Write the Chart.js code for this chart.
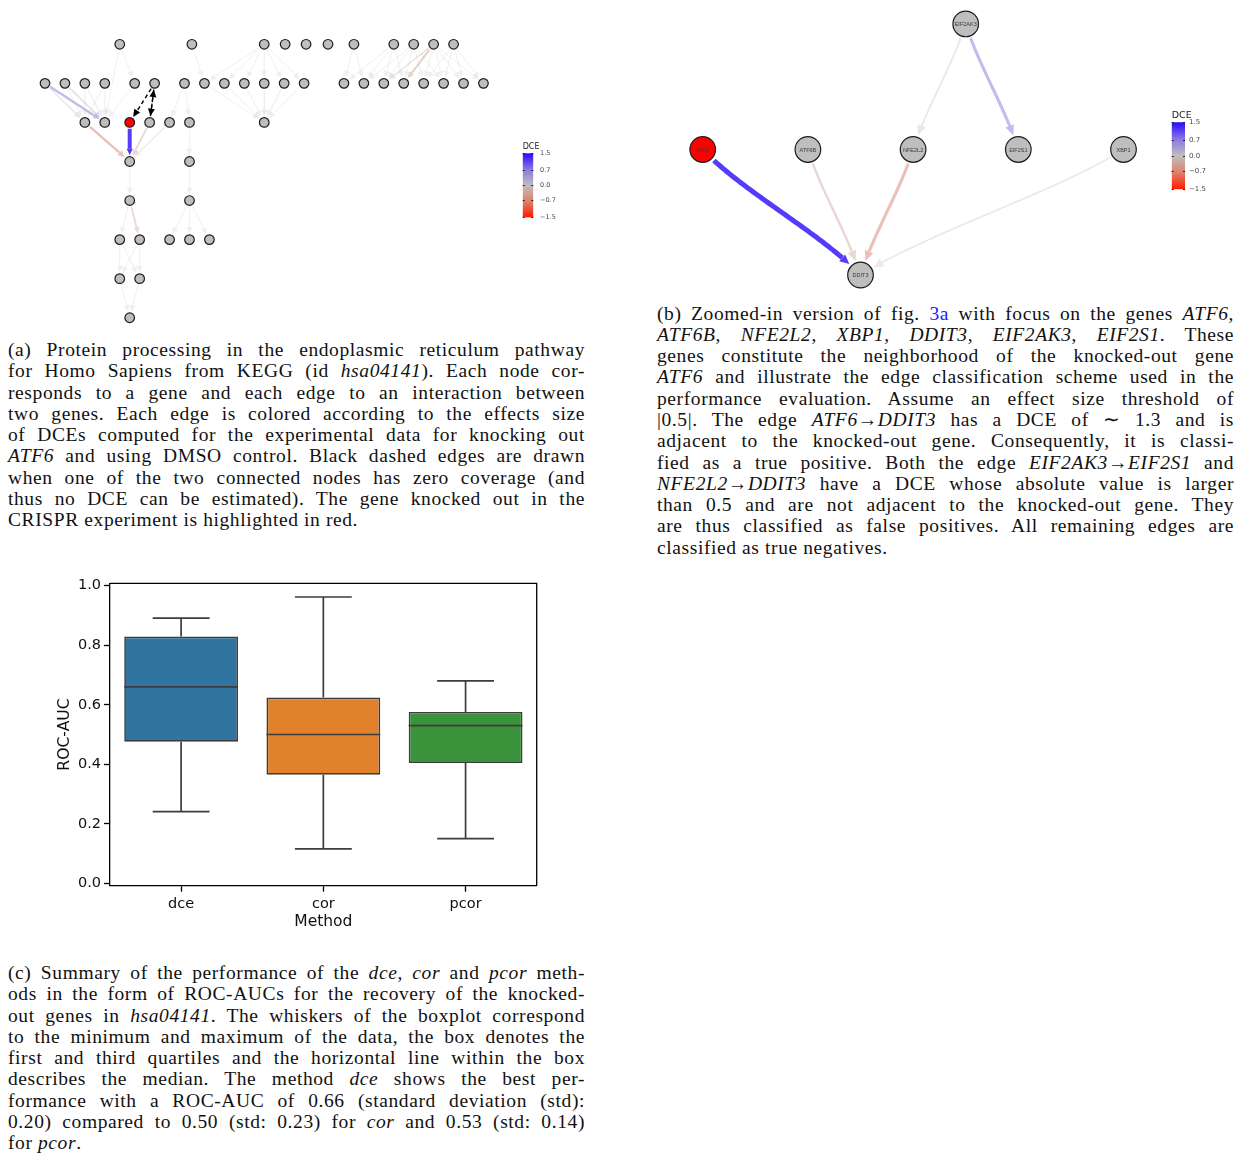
<!DOCTYPE html>
<html>
<head>
<meta charset="utf-8">
<title>DCE on hsa04141</title>
<script src="https://cdn.jsdelivr.net/npm/chart.js@4.4.1/dist/chart.umd.min.js"></script>
<style>
  html, body { margin: 0; padding: 0; background: #fff; }
  body { position: relative; width: 1242px; height: 1153px; overflow: hidden; }
  canvas { position: absolute; }
  .caption {
    position: absolute;
    width: 577px;
    font-family: "Liberation Serif", serif;
    font-size: 19.5px;
    line-height: 21.3px;
    letter-spacing: 0.6px;
    color: #111;
  }
  .caption div { text-align: justify; text-align-last: justify; white-space: nowrap; }
  .caption div:last-child { text-align-last: left; }
  .ref { color: #2020ff; }
</style>
</head>
<body>
<canvas id="netA" width="500" height="335" style="left:0;top:0"></canvas>
<canvas id="barA" width="60" height="90" style="left:505px;top:138px"></canvas>
<canvas id="netB" width="500" height="300" style="left:660px;top:0"></canvas>
<canvas id="barB" width="70" height="100" style="left:1160px;top:100px"></canvas>
<canvas id="auc" width="510" height="370" style="left:40px;top:570px"></canvas>
<div class="caption" id="capA" style="left:8px;top:339px"></div>
<div class="caption" id="capB" style="left:657px;top:302.5px"></div>
<div class="caption" id="capC" style="left:8px;top:962px"></div>

<script>
// ---------- (a) hsa04141 network, layered layout ----------
// horizontal slot of every node, one list per layer (top to bottom)
const slotsByLayerA = [
  [3.75, 7.37, 11, 12.05, 13.1, 14.2, 15.5, 17.5, 18.5, 19.5, 20.5],
  [0, 1, 2, 3, 4.5, 5.5, 7, 8, 9, 10, 11, 12, 13, 15, 16, 17, 18, 19, 20, 21, 22],
  [2, 3, 4.25, 5.25, 6.25, 7.25, 11],
  [4.25, 7.25],
  [4.25, 7.25],
  [3.75, 4.75, 6.25, 7.25, 8.25],
  [3.75, 4.75],
  [4.25]
];
const knockedOutA = "2:4.25";

// edges as "layer:slot" pairs with their DCE
const edgesA = [
  ["0:3.75", "1:4.5", 0], ["0:3.75", "2:3", 0],
  ["1:0", "2:3", 0.6], ["1:0", "2:2", 0.15],
  ["1:1", "2:3", 0.25], ["1:1", "2:2", 0],
  ["1:2", "2:2", 0], ["1:2", "2:3", 0.05],
  ["1:3", "2:3", 0], ["1:3", "2:2", 0],
  ["1:4.5", "2:3", 0],
  ["1:7", "2:6.25", 0], ["1:7", "2:7.25", 0],
  ["0:7.37", "1:8", 0],
  ["0:11", "1:8", 0], ["0:11", "1:9", 0], ["0:11", "1:10", 0],
  ["0:11", "1:11", -0.05], ["0:11", "1:12", 0], ["0:11", "1:13", 0],
  ["1:8", "2:11", 0], ["1:9", "2:11", 0], ["1:10", "2:11", 0],
  ["1:11", "2:11", -0.1], ["1:12", "2:11", -0.05], ["1:13", "2:11", 0],
  ["0:15.5", "1:15", 0], ["0:15.5", "1:16", 0],
  ["0:17.5", "1:15", 0], ["0:17.5", "1:16", 0], ["0:17.5", "1:17", 0], ["0:17.5", "1:18", 0],
  ["0:18.5", "1:16", 0], ["0:18.5", "1:17", 0], ["0:18.5", "1:18", 0],
  ["0:18.5", "1:19", 0], ["0:18.5", "1:20", 0],
  ["0:19.5", "1:17", -0.2], ["0:19.5", "1:18", -0.45], ["0:19.5", "1:19", 0],
  ["0:19.5", "1:20", 0], ["0:19.5", "1:21", 0], ["0:19.5", "1:22", 0],
  ["0:20.5", "1:19", 0], ["0:20.5", "1:20", 0], ["0:20.5", "1:21", 0], ["0:20.5", "1:22", 0],
  ["2:2", "3:4.25", -0.6], ["2:4.25", "3:4.25", 1.3],
  ["2:5.25", "3:4.25", -0.35], ["2:6.25", "3:4.25", -0.1],
  ["2:7.25", "3:7.25", 0],
  ["3:4.25", "4:4.25", 0], ["3:7.25", "4:7.25", 0],
  ["4:4.25", "5:3.75", 0], ["4:4.25", "5:4.75", -0.35],
  ["4:7.25", "5:6.25", 0], ["4:7.25", "5:7.25", 0], ["4:7.25", "5:8.25", 0],
  ["5:3.75", "6:3.75", 0], ["5:3.75", "6:4.75", 0],
  ["5:4.75", "6:3.75", 0], ["5:4.75", "6:4.75", 0],
  ["6:3.75", "7:4.25", 0], ["6:4.75", "7:4.25", 0]
];
// edges touching a gene with zero coverage (no DCE)
const zeroCoverageA = [["1:5.5", "2:4.25"], ["1:5.5", "2:5.25"], ["2:5.25", "1:5.5"]];

// ---------- (b) neighbourhood of ATF6 ----------
const genesB = ["ATF6", "ATF6B", "NFE2L2", "EIF2S1", "XBP1", "EIF2AK3", "DDIT3"];
const slotB  = [0, 1, 2, 3, 4, 2.5, 1.5];
const layerB = [1, 1, 1, 1, 1, 0, 2];
const edgesB = [
  ["XBP1", "DDIT3", -0.1],
  ["EIF2AK3", "NFE2L2", 0.12],
  ["ATF6B", "DDIT3", -0.35],
  ["NFE2L2", "DDIT3", -0.6],
  ["EIF2AK3", "EIF2S1", 0.6],
  ["ATF6", "DDIT3", 1.3]
];
const knockedOutB = "ATF6";

const dceTicks = [1.5, 0.7, 0, -0.7, -1.5];

// ---------- (c) ROC-AUC per method ----------
const methods   = ["dce", "cor", "pcor"];
const aucMin    = [0.241, 0.116, 0.150];
const aucQ1     = [0.476, 0.365, 0.404];
const aucMedian = [0.66, 0.50, 0.53];
const aucQ3     = [0.829, 0.624, 0.576];
const aucMax    = [0.891, 0.962, 0.680];
const aucTicks  = [0, 0.2, 0.4, 0.6, 0.8, 1.0];
const methodColors = ["#3274a1", "#e1812c", "#3a923a"];

// red - grey - blue diverging scale for DCE
const dceStops = [
  [-1.5, [255, 26, 0]], [-0.75, [224, 128, 106]], [0, [190, 190, 190]],
  [0.75, [140, 118, 228]], [1.5, [40, 10, 255]]
];
function dceRgb(v) {
  v = Math.max(-1.5, Math.min(1.5, v));
  for (let i = 1; i < dceStops.length; i++) {
    const [v1, c1] = dceStops[i];
    if (v <= v1) {
      const [v0, c0] = dceStops[i - 1];
      const t = (v - v0) / (v1 - v0);
      return c0.map((c, k) => Math.round(c + (c1[k] - c) * t));
    }
  }
  return dceStops[dceStops.length - 1][1];
}
function edgeColor(v) {
  const [r, g, b] = dceRgb(v);
  const a = 0.25 + 0.75 * Math.min(Math.abs(v) / 1.5, 1);
  return `rgba(${r},${g},${b},${a.toFixed(3)})`;
}

// path of one edge, trimmed at both nodes, with arrow head at the target
function drawEdge(ctx, p0, p1, o) {
  const dx = p1[0] - p0[0], dy = p1[1] - p0[1];
  const pts = [];
  const n = 80;
  for (let i = 0; i <= n; i++) {
    const t = i / n;
    if (o.bend) {
      const c1 = [p0[0] + dx * 0.25, p0[1] + dy / 3];
      const c2 = [p1[0] - dx * 0.25, p1[1] - dy / 3];
      const u = 1 - t;
      pts.push([
        u * u * u * p0[0] + 3 * u * u * t * c1[0] + 3 * u * t * t * c2[0] + t * t * t * p1[0],
        u * u * u * p0[1] + 3 * u * u * t * c1[1] + 3 * u * t * t * c2[1] + t * t * t * p1[1]
      ]);
    } else {
      pts.push([p0[0] + dx * t, p0[1] + dy * t]);
    }
  }
  const dist = (a, b) => Math.hypot(a[0] - b[0], a[1] - b[1]);
  let s = 0;
  while (s < n && dist(pts[s], p0) < o.trim) s++;
  let e = n;
  while (e > s && dist(pts[e], p1) < o.trim) e--;
  const tip = pts[e];
  let b = e;
  while (b > s && dist(pts[b], tip) < o.arrow) b--;
  const base = pts[b];

  ctx.strokeStyle = o.color;
  ctx.fillStyle = o.color;
  ctx.lineWidth = o.width;
  ctx.setLineDash(o.dash || []);
  ctx.beginPath();
  ctx.moveTo(pts[s][0], pts[s][1]);
  for (let i = s + 1; i <= b; i++) ctx.lineTo(pts[i][0], pts[i][1]);
  ctx.stroke();
  ctx.setLineDash([]);

  const ux = (tip[0] - base[0]) / (dist(tip, base) || 1);
  const uy = (tip[1] - base[1]) / (dist(tip, base) || 1);
  const hw = o.arrow * 0.5;
  ctx.beginPath();
  ctx.moveTo(tip[0], tip[1]);
  ctx.lineTo(base[0] - uy * hw, base[1] + ux * hw);
  ctx.lineTo(base[0] + uy * hw, base[1] - ux * hw);
  ctx.closePath();
  ctx.fill();
}

function networkChart(id, nodes, cfg) {
  const byKey = new Map(nodes.map(nd => [nd.key, nd]));
  const edgePlugin = {
    id: "edges",
    beforeDatasetsDraw(chart) {
      const { ctx, scales: { x, y } } = chart;
      const pos = k => [x.getPixelForValue(byKey.get(k).x), y.getPixelForValue(byKey.get(k).y)];
      ctx.save();
      ctx.lineCap = "butt";
      for (const [from, to, dce] of cfg.edges) {
        drawEdge(ctx, pos(from), pos(to), {
          color: edgeColor(dce), width: cfg.width(dce),
          trim: cfg.trim, arrow: cfg.arrow, bend: cfg.bend
        });
      }
      for (const [from, to] of cfg.dashed || []) {
        drawEdge(ctx, pos(from), pos(to), {
          color: "#000", width: 1.4, dash: [4, 3],
          trim: cfg.trim, arrow: cfg.arrow + 1, bend: cfg.bend
        });
      }
      ctx.restore();
    },
    afterDatasetsDraw(chart) {
      if (!cfg.labels) return;
      const { ctx, scales: { x, y } } = chart;
      ctx.save();
      ctx.font = '5.5px "Liberation Sans", Arial, sans-serif';
      ctx.fillStyle = "#3a3a3a";
      ctx.textAlign = "center";
      ctx.textBaseline = "middle";
      for (const nd of nodes) ctx.fillText(nd.key, x.getPixelForValue(nd.x), y.getPixelForValue(nd.y) + 0.5);
      ctx.restore();
    }
  };
  return new Chart(document.getElementById(id), {
    type: "scatter",
    data: {
      datasets: [{
        data: nodes,
        pointRadius: cfg.radius,
        pointHoverRadius: cfg.radius,
        pointBackgroundColor: c => (c.raw && c.raw.key === cfg.ko ? "#ff0000" : "#bebebe"),
        pointBorderColor: "#1c1c1c",
        pointBorderWidth: cfg.border
      }]
    },
    options: {
      responsive: false,
      animation: false,
      events: [],
      layout: { padding: 0, autoPadding: false },
      plugins: { legend: { display: false }, tooltip: { enabled: false } },
      scales: {
        x: { type: "linear", display: false, min: cfg.xRange[0], max: cfg.xRange[1] },
        y: { type: "linear", display: false, reverse: true, min: cfg.yRange[0], max: cfg.yRange[1] }
      }
    },
    plugins: [edgePlugin]
  });
}

function colorbar(id, o) {
  const fmt = v => (v < 0 ? "\u2212" + Math.abs(v).toFixed(1) : v.toFixed(1));
  const ticksAndTitle = {
    id: "cbar",
    afterDatasetsDraw(chart) {
      const { ctx, chartArea: ca, scales: { y } } = chart;
      ctx.save();
      ctx.strokeStyle = "#222";
      ctx.lineWidth = 1;
      for (const t of dceTicks) {
        const py = Math.round(y.getPixelForValue(t)) + 0.5;
        ctx.beginPath();
        ctx.moveTo(ca.left, py); ctx.lineTo(ca.left + 2, py);
        ctx.moveTo(ca.right - 2, py); ctx.lineTo(ca.right, py);
        ctx.stroke();
      }
      ctx.fillStyle = "#1a1a1a";
      ctx.font = o.titleSize + 'px "DejaVu Sans", sans-serif';
      ctx.textAlign = "left";
      ctx.textBaseline = "alphabetic";
      ctx.fillText("DCE", ca.left, ca.top - o.titleGap);
      ctx.restore();
    }
  };
  return new Chart(document.getElementById(id), {
    type: "bar",
    data: {
      labels: ["DCE"],
      datasets: [{
        data: [[dceTicks[dceTicks.length - 1], dceTicks[0]]],
        barPercentage: 1,
        categoryPercentage: 1,
        borderWidth: 0,
        backgroundColor: c => {
          const ca = c.chart.chartArea;
          if (!ca) return "#bebebe";
          const g = c.chart.ctx.createLinearGradient(0, ca.top, 0, ca.bottom);
          dceStops.slice().reverse().forEach(([v, rgb]) => g.addColorStop((1.5 - v) / 3, `rgb(${rgb.join(",")})`));
          return g;
        }
      }]
    },
    options: {
      responsive: false,
      animation: false,
      events: [],
      layout: { padding: o.padding },
      plugins: { legend: { display: false }, tooltip: { enabled: false } },
      scales: {
        x: { display: false },
        y: {
          position: "right",
          min: -1.5, max: 1.5,
          afterBuildTicks: s => { s.ticks = dceTicks.map(v => ({ value: v })); },
          afterFit: s => { s.width = o.axisWidth; },
          grid: { display: false, drawTicks: false },
          border: { display: false },
          ticks: { callback: fmt, color: "#4a4a4a", padding: o.tickPad, font: { family: "DejaVu Sans", size: o.tickSize } }
        }
      }
    },
    plugins: [ticksAndTitle]
  });
}

// ---------- draw (a) ----------
const nodesA = [];
slotsByLayerA.forEach((slots, layer) => slots.forEach(s => nodesA.push({ x: s, y: layer, key: layer + ":" + s })));
networkChart("netA", nodesA, {
  edges: edgesA, dashed: zeroCoverageA, ko: knockedOutA,
  radius: 4.8, border: 1.2, trim: 6.2, arrow: 6, bend: false,
  width: v => 1 + 2.3 * Math.abs(v),
  xRange: [-2.258, 22.83], yRange: [-1.134, 7.442]
});
colorbar("barA", {
  padding: { left: 17.7, top: 15.3, bottom: 7.3, right: 0 },
  axisWidth: 31.7, tickPad: 6.7, tickSize: 6.5, titleSize: 8, titleGap: 4
});

// ---------- draw (b) ----------
const nodesB = genesB.map((g, i) => ({ x: slotB[i], y: layerB[i], key: g }));
networkChart("netB", nodesB, {
  edges: edgesB, ko: knockedOutB, labels: true,
  radius: 12.8, border: 1.2, trim: 14, arrow: 9, bend: true,
  width: v => 1.5 + 2.7 * Math.abs(v),
  xRange: [-0.406, 4.347], yRange: [-0.191, 2.199]
});
colorbar("barB", {
  padding: { left: 11.7, top: 22.3, bottom: 10.7, right: 0 },
  axisWidth: 45, tickPad: 4, tickSize: 7, titleSize: 9.5, titleGap: 4
});

// ---------- draw (c) ----------
const boxParts = {
  id: "boxParts",
  afterDatasetsDraw(chart) {
    const { ctx, scales: { x, y } } = chart;
    const meta = chart.getDatasetMeta(0);
    ctx.save();
    ctx.strokeStyle = "#3d3d3d";
    ctx.lineWidth = 1.7;
    meta.data.forEach((bar, i) => {
      const cx = x.getPixelForValue(i);
      const half = bar.width / 2;
      const cap = half / 2;
      ctx.beginPath();
      ctx.moveTo(cx, y.getPixelForValue(aucQ1[i])); ctx.lineTo(cx, y.getPixelForValue(aucMin[i]));
      ctx.moveTo(cx, y.getPixelForValue(aucQ3[i])); ctx.lineTo(cx, y.getPixelForValue(aucMax[i]));
      ctx.moveTo(cx - cap, y.getPixelForValue(aucMin[i])); ctx.lineTo(cx + cap, y.getPixelForValue(aucMin[i]));
      ctx.moveTo(cx - cap, y.getPixelForValue(aucMax[i])); ctx.lineTo(cx + cap, y.getPixelForValue(aucMax[i]));
      ctx.moveTo(cx - half, y.getPixelForValue(aucMedian[i])); ctx.lineTo(cx + half, y.getPixelForValue(aucMedian[i]));
      ctx.stroke();
    });
    // top and right spines
    const ca = chart.chartArea;
    ctx.strokeStyle = "#000";
    ctx.lineWidth = 1.3;
    ctx.beginPath();
    ctx.moveTo(ca.left, ca.top); ctx.lineTo(ca.right, ca.top); ctx.lineTo(ca.right, ca.bottom);
    ctx.stroke();
    ctx.restore();
  }
};

const axisFont = { family: "DejaVu Sans", size: 14.5 };
new Chart(document.getElementById("auc"), {
  type: "bar",
  data: {
    labels: methods,
    datasets: [{
      data: methods.map((m, i) => [aucQ1[i], aucQ3[i]]),
      backgroundColor: methodColors,
      borderColor: "#3d3d3d",
      borderWidth: 1.7,
      borderSkipped: false,
      barPercentage: 0.8,
      categoryPercentage: 1
    }]
  },
  options: {
    responsive: false,
    animation: false,
    events: [],
    layout: { padding: { top: 13.3, right: 13.3, left: 0, bottom: 0 } },
    plugins: { legend: { display: false }, tooltip: { enabled: false } },
    scales: {
      x: {
        afterFit: s => { s.height = 54.3; },
        grid: { display: true, drawOnChartArea: false, offset: false, tickLength: 6, tickColor: "#000", tickWidth: 1.3 },
        border: { color: "#000", width: 1.3 },
        ticks: { color: "#111", padding: 4, font: axisFont },
        title: { display: true, text: "Method", color: "#111", padding: { top: 0, bottom: 9 }, font: { family: "DejaVu Sans", size: 15.5 } }
      },
      y: {
        min: -0.008, max: 1.008,
        afterBuildTicks: s => { s.ticks = aucTicks.map(v => ({ value: v })); },
        afterFit: s => { s.width = 70; },
        grid: { display: true, drawOnChartArea: false, tickLength: 6, tickColor: "#000", tickWidth: 1.3 },
        border: { color: "#000", width: 1.3 },
        ticks: { callback: v => v.toFixed(1), color: "#111", padding: 3, font: axisFont },
        title: { display: true, text: "ROC-AUC", color: "#111", padding: { top: 15.6, bottom: 0 }, font: { family: "DejaVu Sans", size: 15.6 } }
      }
    }
  },
  plugins: [boxParts]
});

// ---------- captions ----------
const captionA = [
  "(a) Protein processing in the endoplasmic reticulum pathway",
  "for Homo Sapiens from KEGG (id <i>hsa04141</i>). Each node cor-",
  "responds to a gene and each edge to an interaction between",
  "two genes. Each edge is colored according to the effects size",
  "of DCEs computed for the experimental data for knocking out",
  "<i>ATF6</i> and using DMSO control. Black dashed edges are drawn",
  "when one of the two connected nodes has zero coverage (and",
  "thus no DCE can be estimated). The gene knocked out in the",
  "CRISPR experiment is highlighted in red."
];
const captionB = [
  "(b) Zoomed-in version of fig. <span class=\"ref\">3a</span> with focus on the genes <i>ATF6</i>,",
  "<i>ATF6B</i>, <i>NFE2L2</i>, <i>XBP1</i>, <i>DDIT3</i>, <i>EIF2AK3</i>, <i>EIF2S1</i>. These",
  "genes constitute the neighborhood of the knocked-out gene",
  "<i>ATF6</i> and illustrate the edge classification scheme used in the",
  "performance evaluation. Assume an effect size threshold of",
  "|0.5|. The edge <i>ATF6</i>\u2192<i>DDIT3</i> has a DCE of \u223c 1.3 and is",
  "adjacent to the knocked-out gene. Consequently, it is classi-",
  "fied as a true positive. Both the edge <i>EIF2AK3</i>\u2192<i>EIF2S1</i> and",
  "<i>NFE2L2</i>\u2192<i>DDIT3</i> have a DCE whose absolute value is larger",
  "than 0.5 and are not adjacent to the knocked-out gene. They",
  "are thus classified as false positives. All remaining edges are",
  "classified as true negatives."
];
const captionC = [
  "(c) Summary of the performance of the <i>dce</i>, <i>cor</i> and <i>pcor</i> meth-",
  "ods in the form of ROC-AUCs for the recovery of the knocked-",
  "out genes in <i>hsa04141</i>. The whiskers of the boxplot correspond",
  "to the minimum and maximum of the data, the box denotes the",
  "first and third quartiles and the horizontal line within the box",
  "describes the median. The method <i>dce</i> shows the best per-",
  "formance with a ROC-AUC of 0.66 (standard deviation (std):",
  "0.20) compared to 0.50 (std: 0.23) for <i>cor</i> and 0.53 (std: 0.14)",
  "for <i>pcor</i>."
];
function fillCaption(id, lines) {
  document.getElementById(id).innerHTML = lines.map(l => "<div>" + l + "</div>").join("");
}
fillCaption("capA", captionA);
fillCaption("capB", captionB);
fillCaption("capC", captionC);
</script>
</body>
</html>
